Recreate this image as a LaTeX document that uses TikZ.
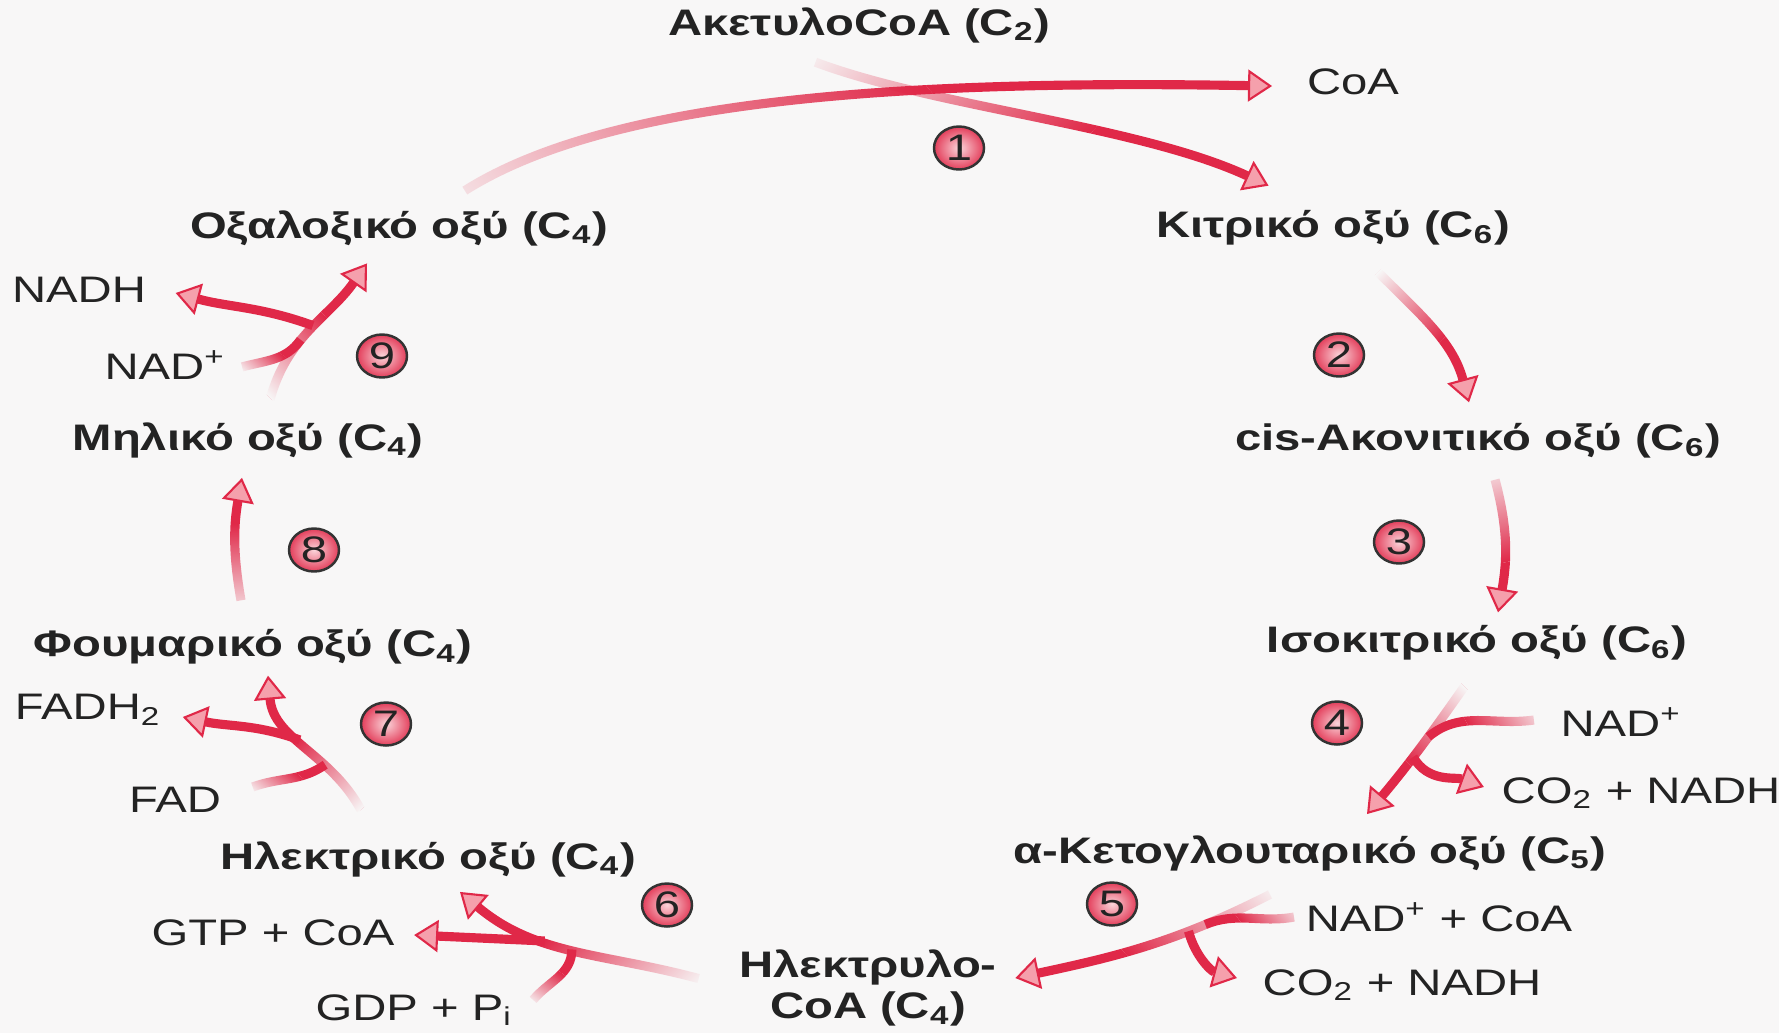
\documentclass[tikz,border=0pt]{standalone}
\usepackage{fontspec}
\setmainfont{Liberation Sans}[FakeStretch=1.28]
\usepackage{tikz}
\usetikzlibrary{calc, arrows.meta, shapes.geometric, fadings}

\definecolor{cycred}{RGB}{224,40,72}
\definecolor{tippink}{RGB}{245,160,172}
\definecolor{paper}{RGB}{248,247,247}
\definecolor{ink}{RGB}{35,35,35}

\newcommand{\labfont}{\fontsize{10.5}{11.8}\selectfont}

% fade out the tail of a stroke
\begin{tikzfadingfrompicture}[name=tailfade]
  \fill[transparent!100] (-150bp,-400bp) rectangle (-32bp,400bp);
  \shade[left color=transparent!100, right color=transparent!0] (-32bp,-400bp) rectangle (6bp,400bp);
  \fill[transparent!0] (6bp,-400bp) rectangle (150bp,400bp);
\end{tikzfadingfrompicture}

\begin{document}
\begin{tikzpicture}[
    flow/.style = {line width=2.6pt, draw=cycred,
      -{Triangle[length=2.4mm, width=3.2mm, fill=tippink, line width=0.6pt]}},
    feed/.style = {line width=2.6pt, draw=cycred},
    fade/.style = {path fading=tailfade, fading angle=#1},
    met/.style = {font=\labfont\bfseries, text=ink, inner sep=2pt},
    cof/.style = {font=\labfont, text=ink, inner sep=2pt},
    stepball/.style = {ellipse, draw=black!80, line width=0.7pt,
      inner color=white!55!tippink, outer color=cycred!90,
      minimum width=5mm, minimum height=4.3mm,
      inner sep=0pt, font=\labfont, text=ink}
  ]
  \fill[paper] (0,0) rectangle (17.79,-10.33);
  \useasboundingbox (0,0) rectangle (17.79,-10.33);

  % Metabolites
  \node[met] (acet)   at (8.59,-0.25)  {ΑκετυλοCoA (C\textsubscript{2})};
  \node[met] (kitr)   at (13.33,-2.28) {Κιτρικό οξύ (C\textsubscript{6})};
  \node[met] (cis)    at (14.78,-4.41) {cis-Ακονιτικό οξύ (C\textsubscript{6})};
  \node[met] (iso)    at (14.77,-6.43) {Ισοκιτρικό οξύ (C\textsubscript{6})};
  \node[met] (akg)    at (13.10,-8.53) {α-Κετογλουταρικό οξύ (C\textsubscript{5})};
  \node[met, align=center] (succoa) at (8.68,-9.88) {Ηλεκτρυλο-\\CoA (C\textsubscript{4})};
  \node[met] (succ)   at (4.28,-8.59)  {Ηλεκτρικό οξύ (C\textsubscript{4})};
  \node[met] (fum)    at (2.53,-6.47)  {Φουμαρικό οξύ (C\textsubscript{4})};
  \node[met] (mal)    at (2.48,-4.40)  {Μηλικό οξύ (C\textsubscript{4})};
  \node[met] (oxal)   at (3.99,-2.28)  {Οξαλοξικό οξύ (C\textsubscript{4})};

  % Cofactors
  \node[cof] (coa)    at (13.53,-0.82) {CoA};
  \node[cof] (nad4)   at (16.21,-7.22) {NAD\textsuperscript{+}};
  \node[cof] (co2r)   at (16.41,-7.93) {CO\textsubscript{2} + NADH};
  \node[cof] (nadcoa) at (14.39,-9.17) {NAD\textsuperscript{+} + CoA};
  \node[cof] (co2b)   at (14.02,-9.85) {CO\textsubscript{2} + NADH};
  \node[cof] (gtp)    at (2.73,-9.33)  {GTP + CoA};
  \node[cof] (gdp)    at (4.14,-10.10) {GDP + P\textsubscript{i}};
  \node[cof] (fadh)   at (0.88,-7.10)  {FADH\textsubscript{2}};
  \node[cof] (fad)    at (1.75,-8.00)  {FAD};
  \node[cof] (nadh9)  at (0.79,-2.90)  {NADH};
  \node[cof] (nad9)   at (1.65,-3.65)  {NAD\textsuperscript{+}};

  % Step 1
  \draw[flow, fade=7] ([shift={(0.66,0.12)}]oxal.north)
    .. controls +(1.5,0.95) and +(-3.5,0.06) .. ([shift={(-0.27,-0.04)}]coa.west);
  \draw[flow, fade=-15] ([shift={(-0.44,-0.12)}]acet.south)
    .. controls +(1.2,-0.45) and +(-1.3,0.6) .. ([shift={(-0.65,0.17)}]kitr.north);

  % Steps 2 and 3
  \draw[flow, fade=-55] ([shift={(0.45,-0.19)}]kitr.south) to[out=-45, in=105] ([shift={(-0.09,0.135)}]cis.north);
  \draw[flow, fade=-88] ([shift={(0.17,-0.135)}]cis.south) to[out=-75, in=80] ([shift={(0.21,0.055)}]iso.north);

  % Step 4
  \draw[flow, fade=-128] ([shift={(-0.12,-0.175)}]iso.south)
    to[out=-125, in=50] coordinate[pos=0.38] (j4a) coordinate[pos=0.55] (j4b)
    ([shift={(0.57,0.135)}]akg.north);
  \draw[feed, fade=190] ([shift={(-0.19,0.02)}]nad4.west) to[out=188, in=40] (j4a);
  \draw[flow] (j4b) to[out=-60, in=160] ([shift={(-0.10,0.06)}]co2r.west);

  % Step 5
  \draw[flow, fade=198] ([shift={(-0.40,-0.16)}]akg.south)
    to[out=207, in=12] coordinate[pos=0.25] (j5a) coordinate[pos=0.32] (j5b)
    ([shift={(0.11,0.1)}]succoa.east);
  \draw[feed, fade=190] ([shift={(-0.04,0)}]nadcoa.west) to[out=190, in=22] (j5a);
  \draw[flow] (j5b) to[out=-75, in=165] ([shift={(-0.18,0.07)}]co2b.west);

  % Step 6
  \draw[flow, fade=159] ([shift={(-0.33,0.095)}]succoa.west)
    to[out=165, in=-40] coordinate[pos=0.5] (j6a) coordinate[pos=0.62] (j6b)
    ([shift={(0.32,-0.075)}]succ.south);
  \draw[flow] (j6b) -- ([shift={(0.12,-0.02)}]gtp.east);
  \draw[feed, fade=60] ([shift={(0.13,0.10)}]gdp.east) to[out=50, in=-90] (j6a);

  % Step 7
  \draw[flow, fade=124] ([shift={(-0.67,0.235)}]succ.north)
    to[out=118, in=-85] coordinate[pos=0.33] (j7a) coordinate[pos=0.55] (j7b)
    ([shift={(0.15,-0.035)}]fum.south);
  \draw[flow] (j7b) to[out=160, in=-12] ([shift={(0.14,-0.07)}]fadh.east);
  \draw[feed, fade=25] ([shift={(0.24,0.13)}]fad.east) to[out=20, in=-145] (j7a);

  % Step 8
  \draw[flow, fade=90] ([shift={(-0.12,0.215)}]fum.north) to[out=100, in=-100] ([shift={(-0.06,-0.125)}]mal.south);

  % Step 9
  \draw[flow, fade=52] ([shift={(0.22,0.15)}]mal.north)
    to[out=75, in=-125] coordinate[pos=0.40] (j9a) coordinate[pos=0.52] (j9b)
    ([shift={(-0.32,-0.10)}]oxal.south);
  \draw[flow] (j9b) to[out=160, in=-15] ([shift={(0.22,-0.03)}]nadh9.east);
  \draw[feed, fade=30] ([shift={(0.09,-0.02)}]nad9.east) to[out=15, in=-125] (j9a);

  % Step numbers
  \node[stepball] (s1) at (9.59,-1.48)  {1};
  \node[stepball] (s2) at (13.39,-3.55) {2};
  \node[stepball] (s3) at (13.99,-5.42) {3};
  \node[stepball] (s4) at (13.37,-7.23) {4};
  \node[stepball] (s5) at (11.12,-9.04) {5};
  \node[stepball] (s6) at (6.67,-9.05)  {6};
  \node[stepball] (s7) at (3.86,-7.24)  {7};
  \node[stepball] (s8) at (3.14,-5.50)  {8};
  \node[stepball] (s9) at (3.82,-3.56)  {9};
\end{tikzpicture}
\end{document}
